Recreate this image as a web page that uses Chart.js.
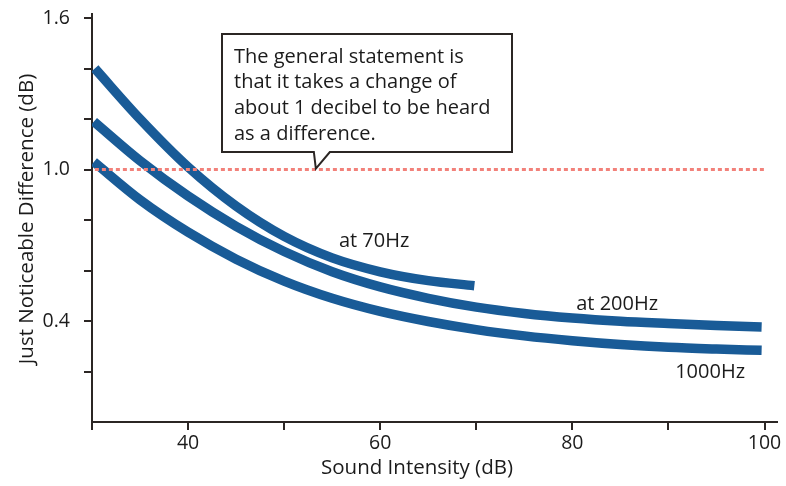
<!DOCTYPE html>
<html>
<head>
<meta charset="utf-8">
<script src="https://cdn.jsdelivr.net/npm/chart.js@4.4.1/dist/chart.umd.min.js"></script>
<style>
    html, body { margin: 0; padding: 0; background: #fff; }
    #wrap { width: 786px; height: 486px; }
</style>
</head>
<body>
<div id="wrap"><canvas id="jndChart" width="786" height="486"></canvas></div>
<script>
// values (sound intensity in dB, JND in dB)
const intensity70 = [30.3, 35, 40, 45, 50, 55, 60, 65, 69.8];
const jnd70 = [1.40, 1.20, 1.01, 0.855, 0.735, 0.65, 0.595, 0.56, 0.54];

const intensity = [30.2, 35, 40, 45, 50, 55, 60, 65, 70, 75, 80, 85, 90, 95, 99.7];
const jnd200 = [1.19, 1.035, 0.895, 0.775, 0.675, 0.595, 0.535, 0.49, 0.455, 0.43, 0.412, 0.399, 0.39, 0.382, 0.376];
const jnd1000 = [1.03, 0.88, 0.752, 0.645, 0.558, 0.49, 0.438, 0.398, 0.366, 0.341, 0.322, 0.307, 0.296, 0.289, 0.284];

const thresholdX = [30.3, 100];
const thresholdY = [1.0, 1.0];

const xTicks = [30, 40, 50, 60, 70, 80, 90, 100];
const xLabels = [40, 60, 80, 100];
const yTicks = [0.2, 0.4, 0.6, 0.8, 1.0, 1.2, 1.4, 1.6];
const yLabels = [0.4, 1.0, 1.6];

const calloutLines = [
    'The general statement is',
    'that it takes a change of',
    'about 1 decibel to be heard',
    'as a difference.'
];
const calloutTipX = 53.3;

const curveLabels = [
    { text: 'at 70Hz', x: 55.7, y: 0.716 },
    { text: 'at 200Hz', x: 80.4, y: 0.468 },
    { text: '1000Hz', x: 90.7, y: 0.196 }
];

const blue = '#195b97';
const ink = '#1b1b1b';
const font = '"Open Sans", "Liberation Sans", sans-serif';

function points(xs, ys) {
    return xs.map((x, i) => ({ x: x, y: ys[i] }));
}

function curve(data) {
    return {
        data: data,
        borderColor: blue,
        borderWidth: 9.5,
        borderCapStyle: 'butt',
        borderJoinStyle: 'round',
        pointRadius: 0,
        cubicInterpolationMode: 'monotone',
        fill: false
    };
}

// annotation text, callout box and axis titles
const extrasPlugin = {
    id: 'extras',
    afterDraw(chart) {
        const c = chart.ctx;
        const x = chart.scales.x, y = chart.scales.y;
        c.save();

        // callout box with tail pointing at the 1 dB line
        const tipX = x.getPixelForValue(calloutTipX);
        const tipY = y.getPixelForValue(1.0) - 1;
        const bx = 222, by = 34, bw = 290, bh = 118;
        c.beginPath();
        c.moveTo(bx, by);
        c.lineTo(bx + bw, by);
        c.lineTo(bx + bw, by + bh);
        c.lineTo(tipX + 14, by + bh);
        c.lineTo(tipX, tipY);
        c.lineTo(tipX - 2, by + bh);
        c.lineTo(bx, by + bh);
        c.closePath();
        c.fillStyle = '#fff';
        c.fill();
        c.lineWidth = 2;
        c.strokeStyle = '#2b2624';
        c.stroke();

        c.fillStyle = ink;
        c.font = '20px ' + font;
        c.textAlign = 'left';
        c.textBaseline = 'middle';
        calloutLines.forEach((line, i) => {
            c.fillText(line, 234, 57 + i * 25.7);
        });

        // curve labels
        c.font = '20px ' + font;
        curveLabels.forEach(l => {
            c.fillText(l.text, x.getPixelForValue(l.x), y.getPixelForValue(l.y));
        });

        // axis titles
        c.textAlign = 'center';
        c.font = '20.5px ' + font;
        c.fillText('Sound Intensity (dB)', 417, 468);
        c.translate(27, 219);
        c.rotate(-Math.PI / 2);
        c.fillText('Just Noticeable Difference (dB)', 0, 0);
        c.restore();
    }
};

const ctx = document.getElementById('jndChart').getContext('2d');
new Chart(ctx, {
    type: 'line',
    data: {
        datasets: [
            {
                data: points(thresholdX, thresholdY),
                borderColor: '#f2817a',
                borderWidth: 3,
                borderDash: [4, 3],
                pointRadius: 0,
                fill: false
            },
            curve(points(intensity70, jnd70)),
            curve(points(intensity, jnd200)),
            curve(points(intensity, jnd1000))
        ]
    },
    options: {
        responsive: false,
        animation: false,
        layout: { padding: { left: 0, right: 9, top: 14, bottom: 0 } },
        plugins: { legend: { display: false }, tooltip: { enabled: false } },
        scales: {
            x: {
                type: 'linear',
                min: 30,
                max: 101.3,
                afterFit: function(scale) {
                    scale.height = 64;
                    scale.paddingLeft = 0;
                    scale.paddingRight = 0;
                },
                afterBuildTicks: function(scale) { scale.ticks = xTicks.map(v => ({ value: v })); },
                grid: { drawOnChartArea: false, drawTicks: true, tickLength: 8, color: '#2b2624', lineWidth: 2 },
                border: { display: true, color: '#2b2624', width: 2 },
                ticks: {
                    autoSkip: false,
                    maxRotation: 0,
                    padding: 2,
                    color: ink,
                    font: { family: font, size: 19.5 },
                    callback: v => xLabels.includes(v) ? String(v) : ''
                }
            },
            y: {
                type: 'linear',
                min: 0,
                max: 1.616,
                afterFit: function(scale) {
                    scale.width = 92;
                    scale.paddingTop = 0;
                    scale.paddingBottom = 0;
                },
                afterBuildTicks: function(scale) { scale.ticks = yTicks.map(v => ({ value: v })); },
                grid: { drawOnChartArea: false, drawTicks: true, tickLength: 8, color: '#2b2624', lineWidth: 2 },
                border: { display: true, color: '#2b2624', width: 2 },
                ticks: {
                    autoSkip: false,
                    padding: 14,
                    color: ink,
                    font: { family: font, size: 19.5 },
                    callback: v => yLabels.some(l => Math.abs(l - v) < 1e-6) ? v.toFixed(1) : ''
                }
            }
        }
    },
    plugins: [extrasPlugin]
});
</script>
</body>
</html>
